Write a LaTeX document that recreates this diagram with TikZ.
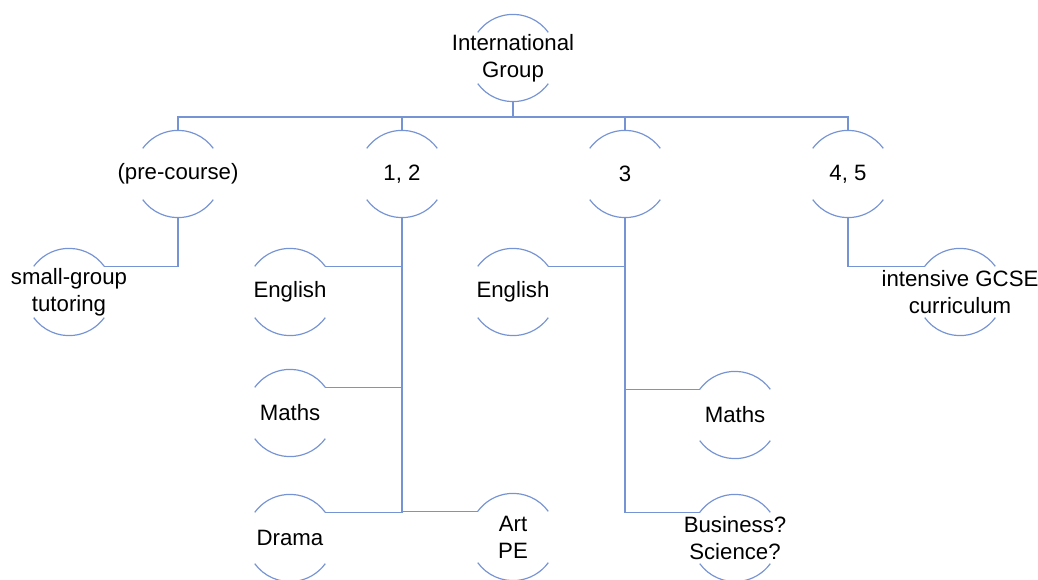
\documentclass[tikz,border=0pt]{standalone}
\usepackage{fontspec}
\setmainfont{Liberation Sans}
\usepackage{tikz}
\usetikzlibrary{calc}
\usepackage{xcolor}
\definecolor{ringblue}{RGB}{118,148,212}
\newcommand{\ringr}{1.09cm}

\begin{document}
\begin{tikzpicture}[
    x=0.025cm, y=0.025cm,
    lbl/.style={align=center, inner sep=0pt, font=\fontsize{15.8}{19}\selectfont},
    ring/.style={draw=ringblue, line width=0.85pt},
    link/.style={draw=ringblue, line width=0.85pt}
]
    \useasboundingbox (0,0) rectangle (1038,579);

    % Spitze
    \node[lbl] (top) at (513, 521) {International\\Group};

    % erste Ebene
    \node[lbl] (pre) at (178, 405) {(pre-course)};
    \node[lbl] (one) at (402, 405) {1, 2};
    \node[lbl] (three) at (625, 405) {3};
    \node[lbl] (four) at (848, 405) {4, 5};

    % zweite Ebene
    \node[lbl] (small) at (69, 287) {small-group\\tutoring};
    \node[lbl] (engA) at (290, 287) {English};
    \node[lbl] (mathA) at (290, 166) {Maths};
    \node[lbl] (drama) at (290, 41) {Drama};
    \node[lbl] (art) at (513, 42) {Art\\PE};
    \node[lbl] (engB) at (513, 287) {English};
    \node[lbl] (mathB) at (735, 164) {Maths};
    \node[lbl] (bus) at (735, 41) {Business?\\Science?};
    \node[lbl] (gcse) at (960, 287) {intensive GCSE\\curriculum};

    % Bögen oben und unten
    \foreach \n in {top, pre, one, three, four, small, engA, mathA, drama, art, engB, mathB, bus, gcse}
        \draw[ring] ([shift={(36:\ringr)}]\n.center) arc[start angle=36, end angle=144, radius=\ringr]
                    ([shift={(216:\ringr)}]\n.center) arc[start angle=216, end angle=324, radius=\ringr];

    % Verbindungen
    \coordinate (rail) at (513, 462);
    \draw[link] ([yshift=-\ringr]top.center) -- (rail);
    \foreach \n in {pre, one, three, four}
        \draw[link] (rail) -| ([yshift=\ringr]\n.center);

    \draw[link] ([yshift=-\ringr]pre.center) |- ([shift={(36:\ringr)}]small.center);
    \foreach \n in {engA, mathA, drama}
        \draw[link] ([yshift=-\ringr]one.center) |- ([shift={(36:\ringr)}]\n.center);
    \draw[link] ([yshift=-\ringr]one.center) |- ([shift={(144:\ringr)}]art.center);
    \draw[link] ([yshift=-\ringr]three.center) |- ([shift={(36:\ringr)}]engB.center);
    \foreach \n in {mathB, bus}
        \draw[link] ([yshift=-\ringr]three.center) |- ([shift={(144:\ringr)}]\n.center);
    \draw[link] ([yshift=-\ringr]four.center) |- ([shift={(144:\ringr)}]gcse.center);
\end{tikzpicture}
\end{document}
